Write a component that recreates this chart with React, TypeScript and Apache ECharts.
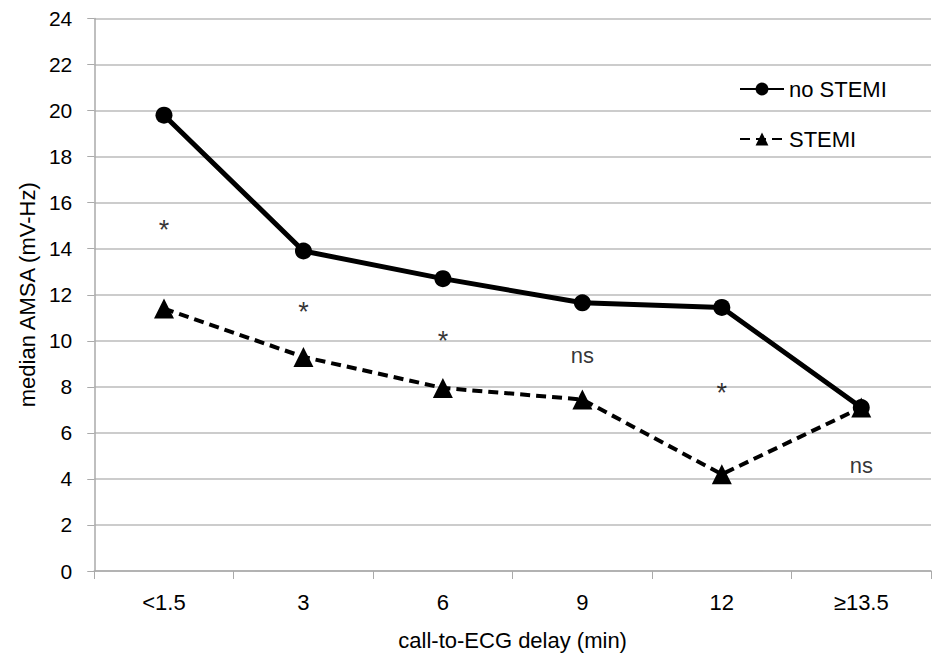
import React, { useEffect, useRef } from "react";
import * as echarts from "echarts";

const categories = ["<1.5", "3", "6", "9", "12", "≥13.5"];
const noStemi = [19.8, 13.9, 12.7, 11.65, 11.45, 7.1];
const stemi = [11.4, 9.3, 7.95, 7.45, 4.2, 7.1];
const annotationY = [14.8, 11.25, 10.0, 9.35, 7.75, 4.6];
const annotationText = ["*", "*", "*", "ns", "*", "ns"];

const FONT = "Liberation Sans, Arial, sans-serif";

export default function App() {
  const ref = useRef<HTMLDivElement>(null);
  useEffect(() => {
    const chart = echarts.init(ref.current!, null, { renderer: "svg" });
    chart.setOption({
      animation: false,
      backgroundColor: "#fff",
      textStyle: { fontFamily: FONT },
      grid: { left: 79, right: 2, top: 9, bottom: 73, containLabel: false },
      legend: {
        orient: "vertical",
        left: 726,
        top: 65,
        itemGap: 28,
        itemWidth: 44,
        itemHeight: 16,
        textStyle: { fontFamily: FONT, fontSize: 22, color: "#000" },
        data: ["no STEMI", "STEMI"],
      },
      xAxis: {
        type: "category",
        data: categories,
        boundaryGap: true,
        name: "call-to-ECG delay (min)",
        nameLocation: "middle",
        nameGap: 58,
        nameTextStyle: { fontFamily: FONT, fontSize: 22, color: "#000" },
        axisLine: { lineStyle: { color: "#aaa", width: 1.5 } },
        axisTick: { show: true, length: 8, inside: false, lineStyle: { color: "#aaa" } },
        axisLabel: { fontFamily: FONT, fontSize: 22, color: "#000", margin: 20 },
      },
      yAxis: {
        type: "value",
        min: 0,
        max: 24,
        interval: 2,
        name: "median AMSA (mV-Hz)",
        nameLocation: "middle",
        nameGap: 53,
        nameRotate: 90,
        nameTextStyle: { fontFamily: FONT, fontSize: 22, color: "#000" },
        axisLine: { show: true, lineStyle: { color: "#aaa", width: 1.5 } },
        axisTick: { show: true, length: 7, lineStyle: { color: "#aaa" } },
        axisLabel: { fontFamily: FONT, fontSize: 21, color: "#000", margin: 22 },
        splitLine: { lineStyle: { color: "#bbb", width: 1.5 } },
      },
      series: [
        {
          name: "no STEMI",
          type: "line",
          data: noStemi,
          symbol: "circle",
          symbolSize: 17,
          itemStyle: { color: "#000" },
          lineStyle: { color: "#000", width: 5 },
          z: 3,
        },
        {
          name: "STEMI",
          type: "line",
          data: stemi,
          symbol: "triangle",
          symbolSize: 20,
          itemStyle: { color: "#000" },
          lineStyle: { color: "#000", width: 4, type: [10, 6] },
          z: 3,
        },
        {
          name: "annotations",
          type: "scatter",
          data: annotationY.map((v, i) => [categories[i], v]),
          symbolSize: 0,
          silent: true,
          label: {
            show: true,
            position: "inside",
            formatter: (p: any) => {
              const t = annotationText[p.dataIndex];
              return t === "*" ? "{star|*}" : "{ns|" + t + "}";
            },
            rich: {
              star: { fontFamily: FONT, fontSize: 27, color: "#000" },
              ns: { fontFamily: FONT, fontSize: 22, color: "#000" },
            },
            color: "#000",
          },
          z: 2,
        },
      ],
    });
    return () => chart.dispose();
  }, []);
  return <div ref={ref} style={{ width: 925, height: 648 }} />;
}
